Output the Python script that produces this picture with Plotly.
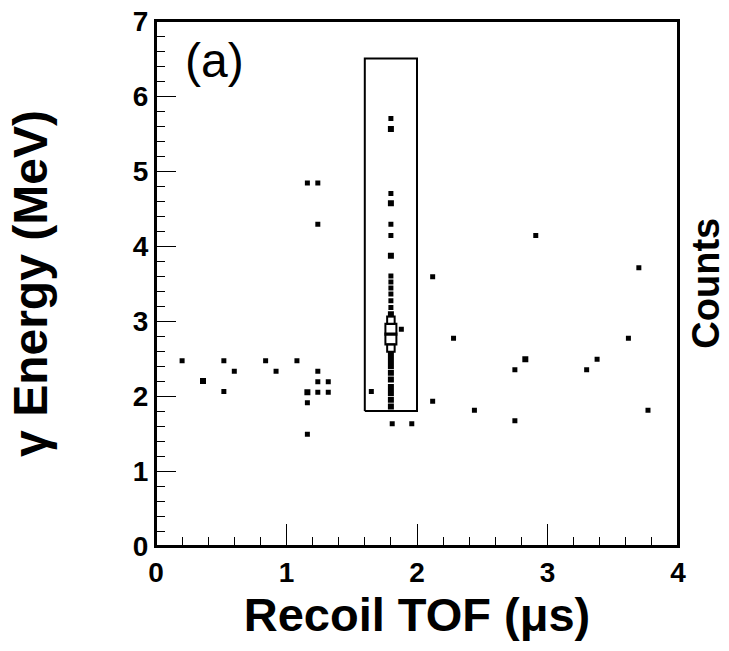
import plotly.graph_objects as go

# Events outside/inside the gate: recoil TOF (us), gamma energy (MeV), counts per bin
tof = [0.20, 0.36, 0.52, 0.52, 0.60, 0.84, 0.92, 1.08, 1.16, 1.16, 1.16,
       1.24, 1.24, 1.24, 1.32, 1.32, 1.16, 1.24, 1.24,
       1.65, 1.88, 1.81, 1.96, 2.12, 2.12, 2.28, 2.44, 2.75, 2.75, 2.83,
       2.91, 3.30, 3.38, 3.62, 3.70, 3.77]
energy = [2.47, 2.20, 2.47, 2.06, 2.33, 2.47, 2.33, 2.47, 2.05, 1.91, 1.49,
          2.33, 2.19, 2.05, 2.19, 2.05, 4.84, 4.84, 4.29,
          2.06, 2.89, 1.63, 1.63, 3.59, 1.93, 2.77, 1.81, 2.35, 1.67, 2.49,
          4.14, 2.35, 2.49, 2.77, 3.71, 1.81]
counts = [1, 2, 1, 1, 1, 1, 1, 1, 2, 1, 1,
          1, 1, 1, 1, 1, 1, 1, 1,
          1, 1, 1, 1, 1, 1, 1, 1, 1, 1, 2,
          1, 1, 1, 1, 1, 1]

# Column of events inside the gate at TOF ~1.8 us
col_tof = 1.80
col_energy = [5.70, 5.56, 4.70, 4.57, 4.29, 4.14, 3.87, 3.60, 3.52, 3.44, 3.36,
              3.27, 3.18, 3.09, 3.01, 2.89, 2.76, 2.64, 2.56, 2.48, 2.40, 2.31,
              2.22, 2.12, 2.04, 1.95, 1.86]
col_counts = [1, 2, 1, 2, 1, 1, 2, 1, 1, 1, 1,
              1, 1, 2, 3, 6, 6, 3, 2, 2, 2, 2,
              2, 2, 2, 2, 2]

# Gate window
gate_tof = [1.6, 2.0]
gate_energy = [1.8, 6.5]

x_ticks = [0, 1, 2, 3, 4]
y_ticks = [0, 1, 2, 3, 4, 5, 6, 7]

all_x = tof + [col_tof] * len(col_energy)
all_y = energy + col_energy
all_c = counts + col_counts


def msize(c):
    return {1: 5, 2: 6, 3: 7.5}.get(c, 11)


def msym(c):
    return "square" if c <= 2 else "square-open"


fig = go.Figure()

# gate box
fig.add_trace(go.Scatter(
    x=[gate_tof[0], gate_tof[1], gate_tof[1], gate_tof[0], gate_tof[0]],
    y=[gate_energy[0], gate_energy[0], gate_energy[1], gate_energy[1], gate_energy[0]],
    mode="lines", line=dict(color="black", width=2), hoverinfo="skip",
    showlegend=False))

fig.add_trace(go.Scatter(
    x=all_x, y=all_y, mode="markers",
    marker=dict(
        symbol=[msym(c) for c in all_c],
        size=[msize(c) for c in all_c],
        color="black", opacity=1,
        line=dict(color="black", width=[2 if c > 2 else 0 for c in all_c]),
    ),
    showlegend=False))

tick_font = dict(family="Liberation Sans", size=28, color="black")

fig.update_xaxes(
    range=[0, 4], tickvals=x_ticks, ticktext=[f"<b>{t}</b>" for t in x_ticks],
    ticks="inside", ticklen=22, tickwidth=1.2, tickcolor="black",
    minor=dict(dtick=0.2, ticks="inside", ticklen=9, tickwidth=1, tickcolor="black"),
    showline=True, linecolor="black", linewidth=2, mirror=True,
    showgrid=False, zeroline=False, tickfont=tick_font, automargin=False,
    title=dict(text="<b>Recoil TOF (μs)</b>",
               font=dict(family="Liberation Sans", size=47, color="black"),
               standoff=4),
)
fig.update_yaxes(
    range=[0, 7], tickvals=y_ticks, ticktext=[f"<b>{t}</b>" for t in y_ticks],
    ticks="inside", ticklen=20, tickwidth=1.2, tickcolor="black",
    minor=dict(dtick=0.2, ticks="inside", ticklen=9, tickwidth=1, tickcolor="black"),
    showline=True, linecolor="black", linewidth=2, mirror=True,
    showgrid=False, zeroline=False, tickfont=tick_font, automargin=False,
    title=dict(text="<b>γ Energy (MeV)</b>",
               font=dict(family="Liberation Sans", size=48, color="black"),
               standoff=70),
)

# plot frame
fig.add_shape(type="rect", xref="paper", yref="paper", x0=0, y0=0, x1=1, y1=1,
              line=dict(color="black", width=2), layer="above")

fig.add_annotation(text="(a)", xref="paper", yref="paper", x=0.052, y=0.98,
                   xanchor="left", yanchor="top", showarrow=False,
                   font=dict(family="Liberation Sans", size=48, color="black"))
fig.add_annotation(text="<b>Counts</b>", xref="paper", yref="paper", x=1.052, y=0.5,
                   xanchor="center", yanchor="middle", textangle=-90, showarrow=False,
                   font=dict(family="Liberation Sans", size=38, color="black"))

fig.update_layout(
    width=729, height=651,
    margin=dict(l=156, r=51, t=21, b=105, autoexpand=False),
    paper_bgcolor="white", plot_bgcolor="white",
)

# remove the page's default 8px body margin so the figure fills the window exactly
fig.write_html(
    "out.html",
    config={"displayModeBar": False},
    post_script="document.body.style.margin='0';document.body.style.overflow='hidden';",
)
